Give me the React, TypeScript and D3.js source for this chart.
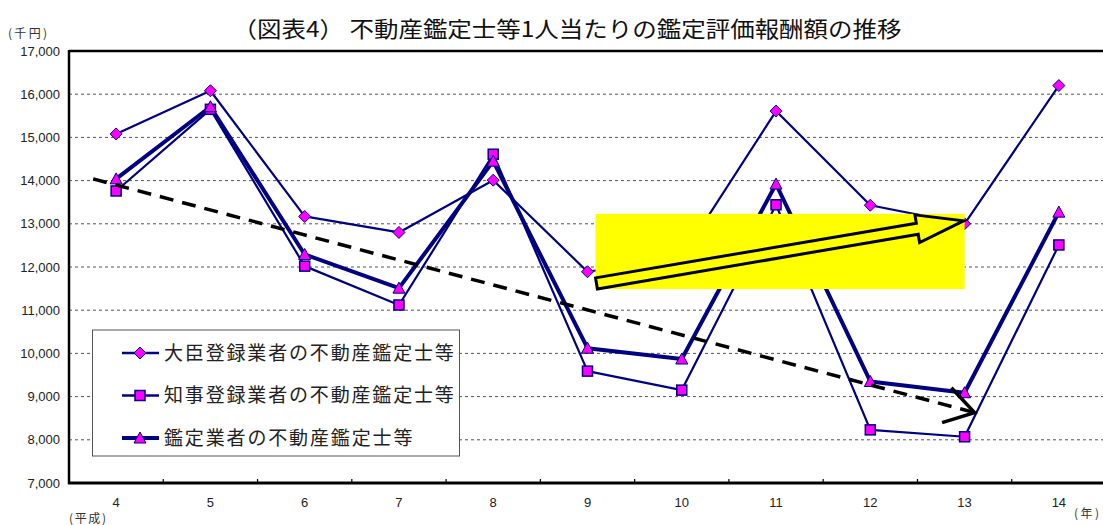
import React from "react";
import * as d3 from "d3";

// 平成 years on the x axis
const years = ["4", "5", "6", "7", "8", "9", "10", "11", "12", "13", "14"];

// 鑑定評価報酬額 per appraiser (千円)
const daijinValues = [15080, 16080, 13170, 12800, 14010, 11890, 12230, 15610, 13430, 13000, 16200];
const chijiValues = [13760, 15650, 12020, 11120, 14610, 9590, 9150, 13440, 8230, 8070, 12510];
const kanteiValues = [14040, 15710, 12290, 11510, 14450, 10120, 9870, 13920, 9350, 9090, 13270];

const yTicks = [7000, 8000, 9000, 10000, 11000, 12000, 13000, 14000, 15000, 16000, 17000];

const seriesNames = [
  "大臣登録業者の不動産鑑定士等",
  "知事登録業者の不動産鑑定士等",
  "鑑定業者の不動産鑑定士等",
];

const W = 1103;
const H = 525;
const NAVY = "#000080";
const MAGENTA = "#FF00FF";
const CJK = "'Noto Sans CJK JP', sans-serif";

const x = d3.scaleBand<string>().domain(years).range([69, 1106]).padding(0);
const y = d3.scaleLinear().domain([7000, 17000]).range([483, 51]);
const cx = (k: string) => (x(k) as number) + x.bandwidth() / 2;

type Shape = "diamond" | "square" | "triangle";

function Marker({ shape, px, py }: { shape: Shape; px: number; py: number }) {
  if (shape === "diamond") {
    const r = 6;
    return (
      <polygon
        points={`${px},${py - r} ${px + r},${py} ${px},${py + r} ${px - r},${py}`}
        fill={MAGENTA}
        stroke={NAVY}
        strokeWidth={1}
      />
    );
  }
  if (shape === "square") {
    const s = 10;
    return (
      <rect x={px - s / 2} y={py - s / 2} width={s} height={s} fill={MAGENTA} stroke={NAVY} strokeWidth={1.5} />
    );
  }
  const h = 10;
  const w = 12;
  return (
    <polygon
      points={`${px},${py - h / 2 - 1} ${px + w / 2},${py + h / 2} ${px - w / 2},${py + h / 2}`}
      fill={MAGENTA}
      stroke={NAVY}
      strokeWidth={1}
    />
  );
}

const series: { name: string; values: number[]; shape: Shape; width: number }[] = [
  { name: seriesNames[0], values: daijinValues, shape: "diamond", width: 2.2 },
  { name: seriesNames[1], values: chijiValues, shape: "square", width: 2.2 },
  { name: seriesNames[2], values: kanteiValues, shape: "triangle", width: 4 },
];

export default function App() {
  const line = d3
    .line<number>()
    .x((_, i) => cx(years[i]))
    .y((v) => y(v));

  // Downward trend arrow (dashed)
  const t0 = [cx("4") - 23, y(14040)];
  const t1 = [cx("13") + 10, y(8630)];
  const tAng = Math.atan2(t1[1] - t0[1], t1[0] - t0[0]);
  const headLen = 34;
  const headA = (32 * Math.PI) / 180;
  const hA = [t1[0] - headLen * Math.cos(tAng - headA), t1[1] - headLen * Math.sin(tAng - headA)];
  const hB = [t1[0] - headLen * Math.cos(tAng + headA), t1[1] - headLen * Math.sin(tAng + headA)];

  // Highlight box and block arrow for 平成9→13
  const boxX0 = cx("9") + 8;
  const boxX1 = cx("13");
  const boxY0 = y(13230);
  const boxY1 = y(11490);

  const a0 = [cx("9") + 9, y(11620)];
  const a1 = [cx("13") - 1, y(13070)];
  const aLen = Math.hypot(a1[0] - a0[0], a1[1] - a0[1]);
  const aAng = (Math.atan2(a1[1] - a0[1], a1[0] - a0[0]) * 180) / Math.PI;
  const sw = 5.6;
  const hw = 14;
  const hl = 47;
  const arrowPts = [
    [0, -sw],
    [aLen - hl, -sw],
    [aLen - hl, -hw],
    [aLen, 0],
    [aLen - hl, hw],
    [aLen - hl, sw],
    [0, sw],
  ]
    .map((p) => p.join(","))
    .join(" ");

  const legendRows = [353, 395.5, 438];

  return (
    <svg
      width={W}
      height={H}
      style={{ position: "absolute", left: 0, top: 0, background: "#fff" }}
      fontFamily="'Liberation Sans', Arial, sans-serif"
    >
      <rect x={0} y={0} width={W} height={H} fill="#fff" />

      {/* title */}
      <text
        x={567}
        y={37}
        textAnchor="middle"
        fontSize={22}
        fontFamily={CJK}
        textLength={669}
        lengthAdjust="spacingAndGlyphs"
        fill="#111"
      >
        （図表4） 不動産鑑定士等1人当たりの鑑定評価報酬額の推移
      </text>

      <text x={8} y={38} fontSize={12} fontFamily={CJK} textLength={39} lengthAdjust="spacing" fill="#333">
        (千円)
      </text>

      {/* gridlines */}
      {yTicks
        .filter((t) => t !== 7000 && t !== 17000)
        .map((t) => (
          <line key={t} x1={69} x2={W} y1={y(t)} y2={y(t)} stroke="#555" strokeWidth={1} strokeDasharray="3,3" />
        ))}

      {/* y tick labels */}
      {yTicks.map((t) => (
        <text key={t} x={60} y={y(t)} dy="0.36em" textAnchor="end" fontSize={13} fill="#222">
          {d3.format(",")(t)}
        </text>
      ))}

      {/* frame */}
      <line x1={69} x2={W} y1={y(17000)} y2={y(17000)} stroke="#000" strokeWidth={2.5} />
      <line x1={69} x2={69} y1={y(17000) - 1} y2={y(7000) + 1} stroke="#000" strokeWidth={2.5} />
      <line x1={68} x2={W} y1={y(7000)} y2={y(7000)} stroke="#000" strokeWidth={3} />
      {years.slice(1).map((k) => (
        <line key={k} x1={x(k) as number} x2={x(k) as number} y1={y(7000)} y2={y(7000) - 4} stroke="#000" strokeWidth={1.2} />
      ))}

      {/* x labels */}
      {years.map((k) => (
        <text key={k} x={cx(k)} y={507} textAnchor="middle" fontSize={13} fill="#222">
          {k}
        </text>
      ))}
      <text x={69} y={523} fontSize={12} fontFamily={CJK} textLength={37} lengthAdjust="spacing" fill="#333">
        (平成)
      </text>
      <text x={1074} y={518} fontSize={12} fontFamily={CJK} textLength={25} lengthAdjust="spacing" fill="#333">
        (年)
      </text>

      {/* series lines */}
      {series.map((s) => (
        <path key={s.name} d={line(s.values) || ""} fill="none" stroke={NAVY} strokeWidth={s.width} strokeLinejoin="round" />
      ))}
      {series.map((s) =>
        s.values.map((v, i) => <Marker key={s.name + i} shape={s.shape} px={cx(years[i])} py={y(v)} />)
      )}

      {/* legend */}
      <rect x={92.5} y={330} width={367} height={126} fill="#fff" stroke="#555" strokeWidth={1} />
      {series.map((s, i) => (
        <g key={s.name}>
          <line x1={122} x2={159} y1={legendRows[i]} y2={legendRows[i]} stroke={NAVY} strokeWidth={s.width === 4 ? 4 : 2.5} />
          <Marker shape={s.shape} px={140} py={legendRows[i]} />
          <text
            x={164}
            y={legendRows[i]}
            dy="0.36em"
            fontSize={19}
            fontFamily={CJK}
            textLength={s.name.length * 20.7}
            lengthAdjust="spacing"
            fill="#222"
          >
            {s.name}
          </text>
        </g>
      ))}

      {/* trend arrow */}
      <line x1={t0[0]} y1={t0[1]} x2={t1[0]} y2={t1[1]} stroke="#000" strokeWidth={3.5} strokeDasharray="14,9" />
      <polyline
        points={`${hA[0]},${hA[1]} ${t1[0]},${t1[1]} ${hB[0]},${hB[1]}`}
        fill="none"
        stroke="#000"
        strokeWidth={3.5}
      />

      {/* highlight */}
      <rect x={boxX0} y={boxY0} width={boxX1 - boxX0} height={boxY1 - boxY0} fill="#FFFF00" />
      <polygon
        points={arrowPts}
        transform={`translate(${a0[0]},${a0[1]}) rotate(${aAng})`}
        fill="#FFFF00"
        stroke="#000"
        strokeWidth={3}
        strokeLinejoin="miter"
      />
    </svg>
  );
}
